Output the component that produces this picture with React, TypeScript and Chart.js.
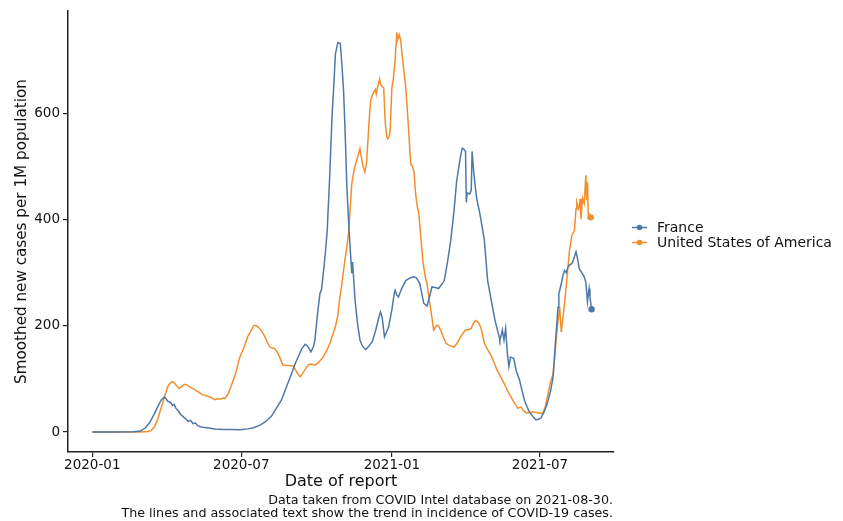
import React, { useEffect, useRef } from 'react';
import { Chart, registerables } from 'chart.js';

Chart.register(...registerables);

// Days since 2020-01-01
const franceDays = [0, 30, 50, 59, 65, 70, 75, 80, 84, 88, 90, 92, 94, 96, 98, 100, 102, 105, 108, 111, 114, 117, 120, 123, 126, 129, 132, 135, 140, 150, 160, 170, 180, 190, 197, 205, 212, 219, 225, 231, 236, 242, 248, 252, 256, 260, 263, 267, 270, 272, 275, 278, 280, 283, 285, 287, 290, 293, 295, 297, 300, 303, 305, 307, 309, 311, 313, 314, 316, 317, 318, 321, 324, 327, 330, 334, 338, 342, 346, 350, 352, 354, 357, 360, 362, 366, 369, 370, 372, 374, 378, 383, 388, 393, 396, 400, 405, 409, 412, 415, 419, 423, 427, 430, 434, 438, 442, 445, 448, 450, 452, 454, 456, 457, 458, 461, 463, 464, 466, 468, 470, 473, 475, 479, 483, 486, 489, 492, 495, 497, 498, 500, 501, 503, 505, 507, 509, 511, 513, 515, 518, 522, 525, 528, 531, 534, 538, 542, 545, 548, 552, 556, 560, 563, 565, 567, 569, 570, 573, 575, 577, 579, 581, 583, 586, 588, 591, 593, 595, 598, 601, 603, 605, 607, 608, 610];
const franceValues = [0, 0, 0.5, 2, 8, 18, 32, 48, 60, 66, 63, 58, 57, 55, 50, 52, 45, 40, 33, 29, 25, 20, 22, 16, 17, 12, 10, 9, 8, 6, 5, 5, 4.5, 6, 8, 13, 20, 30, 45, 60, 80, 104, 129, 143, 157, 165, 162, 151, 160, 173, 220, 260, 268, 310, 342, 379, 480, 598, 650, 711, 733, 731, 690, 642, 560, 461, 400, 373, 323, 299, 320, 248, 205, 173, 162, 155, 162, 170, 190, 215, 226, 217, 179, 190, 198, 230, 262, 267, 258, 254, 270, 285, 290, 292, 290, 280, 242, 237, 255, 273, 272, 270, 278, 285, 320, 361, 417, 470, 501, 520, 534, 532, 528, 432, 450, 448, 455, 528, 490, 460, 436, 415, 398, 361, 285, 260, 235, 210, 192, 180, 173, 185, 192, 173, 195, 150, 123, 141, 140, 138, 115, 98, 78, 60, 48, 38, 30, 23, 24, 26, 38, 54, 78, 104, 150, 192, 235, 260, 279, 295, 304, 300, 310, 314, 317, 325, 339, 325, 307, 300, 292, 282, 245, 270, 255, 231];

const usDays = [0, 30, 60, 68, 72, 76, 80, 84, 88, 92, 95, 98, 100, 103, 106, 109, 112, 114, 117, 120, 125, 130, 135, 140, 145, 150, 153, 156, 160, 162, 166, 170, 175, 180, 185, 190, 193, 197, 200, 203, 207, 211, 214, 217, 220, 223, 226, 229, 231, 233, 240, 246, 250, 254, 256, 260, 264, 268, 272, 276, 282, 287, 291, 294, 297, 300, 302, 305, 307, 309, 311, 313, 315, 317, 320, 323, 325, 327, 329, 331, 333, 335, 336, 338, 340, 342, 344, 346, 347, 349, 351, 352, 354, 356, 358, 360, 361, 363, 364, 366, 368, 370, 372, 373, 375, 377, 378, 380, 383, 386, 389, 391, 393, 395, 397, 399, 401, 404, 407, 409, 412, 415, 417, 419, 421, 423, 426, 429, 432, 436, 440, 442, 446, 450, 453, 456, 460, 463, 465, 468, 470, 472, 475, 479, 483, 487, 491, 495, 499, 503, 506, 509, 512, 516, 520, 524, 527, 530, 534, 538, 542, 546, 550, 553, 556, 560, 563, 565, 567, 569, 571, 573, 575, 577, 580, 583, 586, 589, 591, 592, 594, 595, 596, 597, 599, 601, 603, 604, 605, 606, 607, 609];
const usValues = [0, 0, 0.3, 1, 3, 10, 25, 45, 65, 85, 92, 95, 93, 87, 82, 85, 89, 90, 87, 84, 80, 75, 70, 68, 65, 61, 63, 62, 64, 63, 72, 88, 110, 140, 158, 180, 188, 200, 201, 197, 190, 179, 168, 160, 158, 157, 150, 141, 132, 126, 125, 124, 112, 104, 108, 118, 127, 128, 126, 130, 141, 155, 170, 185, 198, 220, 248, 280, 304, 328, 348, 373, 420, 467, 495, 511, 522, 533, 515, 498, 489, 505, 530, 580, 623, 633, 640, 645, 636, 652, 664, 655, 650, 648, 580, 555, 552, 558, 570, 648, 667, 700, 752, 738, 748, 735, 717, 690, 648, 580, 505, 500, 490, 448, 425, 411, 373, 320, 290, 279, 245, 215, 192, 197, 201, 200, 190, 178, 167, 163, 161, 160, 168, 179, 186, 192, 193, 195, 203, 210, 208, 206, 195, 167, 155, 145, 130, 115, 104, 92, 82, 73, 65, 54, 45, 47, 40, 36, 37, 38, 37, 36, 35, 45, 66, 95, 110, 140, 179, 210, 235, 188, 215, 242, 290, 342, 370, 379, 420, 432, 420, 425, 439, 401, 440, 430, 483, 436, 470, 406, 410, 404];

const seriesNames = ['France', 'United States of America'];
const seriesColors = ['#4e79a7', '#f28e2b'];

const xTickDays = [0, 182, 366, 547];
const xTickLabels = ['2020-01', '2020-07', '2021-01', '2021-07'];
const yTickValues = [0, 200, 400, 600];

const xTitle = 'Date of report';
const yTitle = 'Smoothed new cases per 1M population';
const captionLines = [
  'Data taken from COVID Intel database on 2021-08-30.',
  'The lines and associated text show the trend in incidence of COVID-19 cases.',
];

const FONT = "'DejaVu Sans', sans-serif";
const TEXT = '#111';

const legendPlugin = {
  id: 'sideLegend',
  afterDraw(chart: any) {
    const ctx = chart.ctx;
    ctx.save();
    ctx.font = `14px ${FONT}`;
    ctx.textBaseline = 'middle';
    ctx.textAlign = 'left';
    seriesNames.forEach((name, i) => {
      const y = 227.5 + i * 15;
      ctx.strokeStyle = seriesColors[i];
      ctx.lineWidth = 1.5;
      ctx.beginPath();
      ctx.moveTo(632, y);
      ctx.lineTo(647, y);
      ctx.stroke();
      ctx.fillStyle = seriesColors[i];
      ctx.beginPath();
      ctx.arc(639.5, y, 2.8, 0, Math.PI * 2);
      ctx.fill();
      ctx.fillStyle = TEXT;
      ctx.fillText(name, 657, y + 0.5);
    });
    ctx.restore();
  },
};

const captionPlugin = {
  id: 'caption',
  afterDraw(chart: any) {
    const ctx = chart.ctx;
    ctx.save();
    ctx.font = `12.7px ${FONT}`;
    ctx.fillStyle = TEXT;
    ctx.textAlign = 'right';
    ctx.textBaseline = 'alphabetic';
    captionLines.forEach((line, i) => {
      ctx.fillText(line, chart.chartArea.right - 1, 504 + i * 13);
    });
    ctx.restore();
  },
};

function makeSeries(days: number[], values: number[]) {
  return days.map((d, i) => ({ x: d, y: values[i] }));
}

export default function App() {
  const ref = useRef<HTMLCanvasElement | null>(null);

  useEffect(() => {
    if (!ref.current) return;
    const lastRadius = (n: number) => (c: any) => (c.dataIndex === n - 1 ? 3.2 : 0);
    const chart = new Chart(ref.current, {
      type: 'line',
      data: {
        datasets: [
          {
            label: seriesNames[0],
            data: makeSeries(franceDays, franceValues),
            borderColor: seriesColors[0],
            backgroundColor: seriesColors[0],
            borderWidth: 1.5,
            pointRadius: lastRadius(franceDays.length),
            pointBorderWidth: 0,
            tension: 0,
          },
          {
            label: seriesNames[1],
            data: makeSeries(usDays, usValues),
            borderColor: seriesColors[1],
            backgroundColor: seriesColors[1],
            borderWidth: 1.5,
            pointRadius: lastRadius(usDays.length),
            pointBorderWidth: 0,
            tension: 0,
          },
        ],
      },
      options: {
        animation: false,
        responsive: false,
        devicePixelRatio: 1,
        layout: { padding: { left: 0, top: 10, right: 229, bottom: 29 } },
        plugins: {
          legend: { display: false },
          tooltip: { enabled: false },
        },
        scales: {
          x: {
            type: 'linear',
            min: -29.7,
            max: 637.4,
            afterBuildTicks: (scale: any) => {
              scale.ticks = xTickDays.map((v) => ({ value: v }));
            },
            afterFit: (scale: any) => {
              scale.height = 40;
            },
            ticks: {
              autoSkip: false,
              maxRotation: 0,
              padding: 0,
              color: TEXT,
              font: { family: FONT, size: 13.5 },
              callback: (_v: any, i: number) => xTickLabels[i],
            },
            grid: { drawOnChartArea: false, drawTicks: true, tickLength: 5, color: '#222', lineWidth: 1.2 },
            border: { display: true, color: '#222', width: 1.5 },
            title: {
              display: true,
              text: xTitle,
              color: TEXT,
              font: { family: FONT, size: 16 },
              padding: { top: 0, bottom: 1 },
            },
          },
          y: {
            type: 'linear',
            min: -37.5,
            max: 792,
            afterBuildTicks: (scale: any) => {
              scale.ticks = yTickValues.map((v) => ({ value: v }));
            },
            afterFit: (scale: any) => {
              scale.width = 68;
            },
            ticks: {
              padding: 3,
              color: TEXT,
              font: { family: FONT, size: 13.5 },
              callback: (v: any) => String(v),
            },
            grid: { drawOnChartArea: false, drawTicks: true, tickLength: 5, color: '#222', lineWidth: 1.2 },
            border: { display: true, color: '#222', width: 1.5 },
            title: {
              display: true,
              text: yTitle,
              color: TEXT,
              font: { family: FONT, size: 15.2 },
              padding: { top: 12.5, bottom: 0 },
            },
          },
        },
      },
      plugins: [legendPlugin, captionPlugin],
    } as any);
    return () => chart.destroy();
  }, []);

  return (
    <div style={{ position: 'fixed', left: 0, top: 0, width: 843, height: 521, background: '#fff' }}>
      <canvas ref={ref} width={843} height={521} style={{ display: 'block', width: 843, height: 521 }} />
    </div>
  );
}
